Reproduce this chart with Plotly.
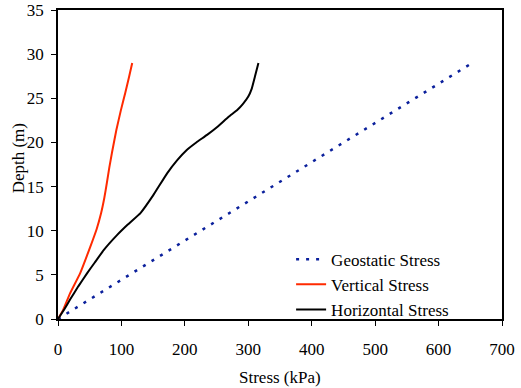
import plotly.graph_objects as go

# Geostatic stress: straight line from surface to 29 m
geo_stress = [0, 653]
geo_depth = [0, 29]

# Vertical stress profile
vert_stress = [0, 8, 19, 35, 51, 61, 68, 73, 77, 81, 85, 92, 99, 106, 112, 117]
vert_depth = [0, 1, 2.9, 5.2, 8.2, 10.2, 12, 13.7, 15.4, 17.2, 18.8, 21.4,
              23.6, 25.6, 27.4, 29]

# Horizontal stress profile
horiz_stress = [0, 10, 19, 32, 46, 58, 72, 93, 110, 130, 150, 172, 188, 203,
                218, 235, 252, 269, 283, 292, 300, 305.5, 311, 316]
horiz_depth = [0, 1.1, 2.2, 3.7, 5.2, 6.4, 7.8, 9.5, 10.7, 12, 14, 16.5, 18,
               19.15, 20, 20.85, 21.8, 22.9, 23.7, 24.4, 25.2, 26.1, 27.6, 29]

x_ticks = [0, 100, 200, 300, 400, 500, 600, 700]
y_ticks = [0, 5, 10, 15, 20, 25, 30, 35]

x_title = "Stress (kPa)"
y_title = "Depth (m)"

FAMILY = "Times New Roman"


def serif_font(size=17):
    return dict(family=FAMILY, size=size, color="black")


fig = go.Figure()
fig.add_trace(go.Scatter(
    x=geo_stress, y=geo_depth, mode="lines", name="Geostatic Stress",
    line=dict(color="#0b209c", width=2.5, dash="3px,7px"),
))
fig.add_trace(go.Scatter(
    x=vert_stress, y=vert_depth, mode="lines", name="Vertical Stress",
    line=dict(color="#ff2a00", width=2, shape="spline", smoothing=0.3),
))
fig.add_trace(go.Scatter(
    x=horiz_stress, y=horiz_depth, mode="lines", name="Horizontal Stress",
    line=dict(color="#000000", width=2, shape="spline", smoothing=0.3),
))

# axis titles placed as paper-anchored annotations
fig.add_annotation(x=0.5, y=-0.188, xref="paper", yref="paper",
                   xanchor="center", yanchor="middle", showarrow=False,
                   text=x_title, font=serif_font())
fig.add_annotation(x=-0.09, y=0.52, xref="paper", yref="paper",
                   xanchor="center", yanchor="middle", showarrow=False,
                   textangle=-90, text=y_title, font=serif_font())


def axis_style():
    return dict(
        showgrid=False, zeroline=False, showline=True, linecolor="black",
        linewidth=1.5, mirror=True, ticks="outside", ticklen=5, tickwidth=1,
        tickcolor="black", automargin=False, tickfont=serif_font(),
    )


fig.update_layout(
    width=521, height=388,
    margin=dict(l=58, r=19, t=10, b=69),
    paper_bgcolor="white", plot_bgcolor="white",
    xaxis=dict(range=[0, 700], tickvals=x_ticks, ticklabelstandoff=9,
               **axis_style()),
    yaxis=dict(range=[0, 35], tickvals=y_ticks, ticklabelstandoff=4,
               **axis_style()),
    legend=dict(
        x=0.525, y=-0.028, xanchor="left", yanchor="bottom",
        bgcolor="rgba(0,0,0,0)", font=serif_font(),
    ),
    showlegend=True,
)

fig.write_html("out.html")
